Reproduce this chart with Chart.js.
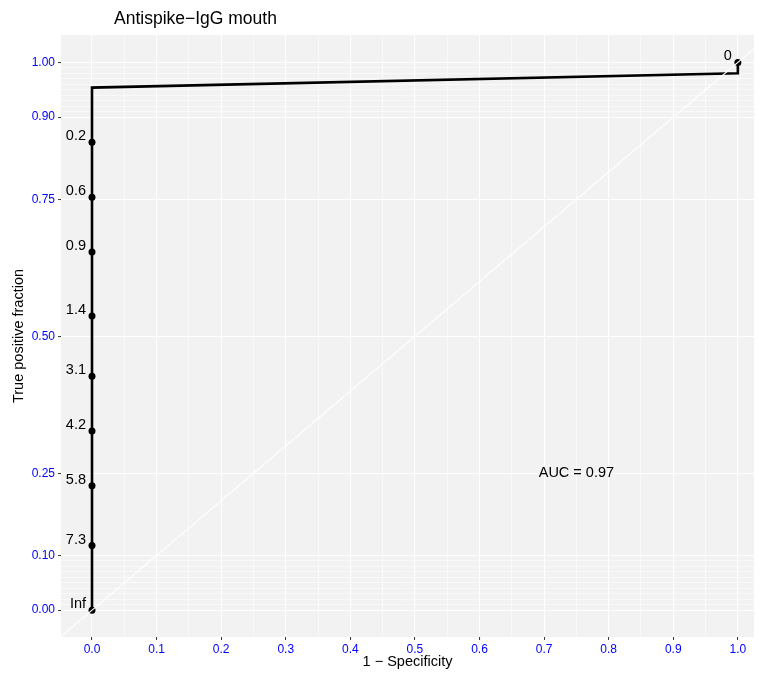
<!DOCTYPE html>
<html>
<head>
<meta charset="utf-8">
<script src="https://cdn.jsdelivr.net/npm/chart.js@4"></script>
<style>
  html, body { margin: 0; padding: 0; background: #fff; }
  #wrap { width: 758px; height: 675px; }
</style>
</head>
<body>
<div id="wrap"><canvas id="roc" width="758" height="675"></canvas></div>
<script>
// ROC path (false positive fraction vs true positive fraction)
const pathFPF = [0, 0, 1, 1];
const pathTPF = [0, 0.954, 0.98, 1];

// labelled cutoffs
const cutLabels = ['Inf', '7.3', '5.8', '4.2', '3.1', '1.4', '0.9', '0.6', '0.2', '0'];
const cutFPF = [0, 0, 0, 0, 0, 0, 0, 0, 0, 1];
const cutTPF = [0, 0.118, 0.227, 0.327, 0.427, 0.537, 0.654, 0.754, 0.854, 1];

// reference diagonal
const refX = [-0.1, 1.1];
const refY = [-0.1, 1.1];

const xMajor = [0, 0.1, 0.2, 0.3, 0.4, 0.5, 0.6, 0.7, 0.8, 0.9, 1.0];
const yMajor = [0, 0.10, 0.25, 0.50, 0.75, 0.90, 1.00];
const aucText = 'AUC = 0.97';
const aucPos = [0.75, 0.25];

const FONT = "'Liberation Sans', Arial, sans-serif";
const r2 = v => Math.round(v * 1000) / 1000;

// minor breaks: every 0.05 on x, every 0.01 near the ends on y
const xGrid = [];
for (let i = 0; i <= 20; i++) xGrid.push(r2(i * 0.05));
const yGrid = [];
for (let i = 0; i <= 10; i++) yGrid.push(r2(i * 0.01));
yGrid.push(0.25, 0.5, 0.75);
for (let i = 90; i <= 100; i++) yGrid.push(r2(i * 0.01));

const isXMajor = v => xMajor.some(m => Math.abs(m - v) < 1e-6);
const isYMajor = v => yMajor.some(m => Math.abs(m - v) < 1e-6);

const panelBg = {
  id: 'panelBg',
  beforeDraw(chart) {
    const { ctx, chartArea: a } = chart;
    ctx.save();
    ctx.fillStyle = '#f2f2f2';
    ctx.fillRect(a.left, a.top, a.right - a.left, a.bottom - a.top);
    ctx.restore();
  }
};

const annotations = {
  id: 'annotations',
  afterDraw(chart) {
    const { ctx } = chart;
    const xs = chart.scales.x, ys = chart.scales.y;
    ctx.save();
    ctx.fillStyle = '#000';
    // title
    ctx.font = '17.5px ' + FONT;
    ctx.textAlign = 'left';
    ctx.textBaseline = 'middle';
    ctx.fillText('Antispike\u2212IgG mouth', 114, 19);
    // cutoff labels
    ctx.font = '14.5px ' + FONT;
    ctx.textAlign = 'right';
    cutLabels.forEach((lab, i) => {
      const px = xs.getPixelForValue(cutFPF[i]);
      const py = ys.getPixelForValue(cutTPF[i]);
      ctx.fillText(lab, px - 6, py - 6);
    });
    // AUC
    ctx.textAlign = 'center';
    ctx.fillText(aucText, xs.getPixelForValue(aucPos[0]), ys.getPixelForValue(aucPos[1]));
    ctx.restore();
  }
};

new Chart(document.getElementById('roc').getContext('2d'), {
  type: 'scatter',
  data: {
    datasets: [
      {
        data: refX.map((x, i) => ({ x, y: refY[i] })),
        showLine: true,
        borderColor: '#ffffff',
        borderWidth: 1.1,
        pointRadius: 0,
        order: 0
      },
      {
        data: cutFPF.map((x, i) => ({ x, y: cutTPF[i] })),
        showLine: false,
        pointRadius: 3.5,
        pointBackgroundColor: '#000',
        pointBorderWidth: 0,
        order: 1
      },
      {
        data: pathFPF.map((x, i) => ({ x, y: pathTPF[i] })),
        showLine: true,
        borderColor: '#000',
        borderWidth: 2.6,
        pointRadius: 0,
        tension: 0,
        order: 2
      }
    ]
  },
  options: {
    responsive: false,
    animation: false,
    layout: { padding: { top: 35, right: 3, left: 0, bottom: 0 } },
    plugins: { legend: { display: false }, tooltip: { enabled: false }, title: { display: false } },
    scales: {
      x: {
        type: 'linear',
        min: -0.048,
        max: 1.025,
        afterBuildTicks: s => { s.ticks = xGrid.map(v => ({ value: v })); },
        afterFit: s => { s.height = 38; },
        border: { display: false },
        grid: {
          color: '#ffffff',
          lineWidth: c => (c.tick && isXMajor(c.tick.value)) ? 1.1 : 0.55,
          tickColor: c => (c.tick && isXMajor(c.tick.value)) ? '#333333' : 'rgba(0,0,0,0)',
          tickLength: 3,
          tickWidth: 1
        },
        ticks: {
          autoSkip: false,
          maxRotation: 0,
          color: '#0000ff',
          font: { size: 12, family: FONT },
          padding: 2,
          callback: v => isXMajor(v) ? v.toFixed(1) : ''
        },
        title: {
          display: true,
          text: '1 \u2212 Specificity',
          color: '#000',
          font: { size: 14.5, family: FONT },
          padding: { top: 0, bottom: 4 }
        }
      },
      y: {
        type: 'linear',
        min: -0.049,
        max: 1.05,
        afterBuildTicks: s => { s.ticks = yGrid.map(v => ({ value: v })); },
        afterFit: s => { s.width = 61; },
        border: { display: false },
        grid: {
          color: '#ffffff',
          lineWidth: c => (c.tick && isYMajor(c.tick.value)) ? 1.1 : 0.55,
          tickColor: c => (c.tick && isYMajor(c.tick.value)) ? '#333333' : 'rgba(0,0,0,0)',
          tickLength: 3,
          tickWidth: 1
        },
        ticks: {
          autoSkip: false,
          color: '#0000ff',
          font: { size: 12, family: FONT },
          padding: 3,
          callback: v => isYMajor(v) ? v.toFixed(2) : ''
        },
        title: {
          display: true,
          text: 'True positive fraction',
          color: '#000',
          font: { size: 14.5, family: FONT },
          padding: { top: 10, bottom: 0 }
        }
      }
    }
  },
  plugins: [panelBg, annotations]
});
</script>
</body>
</html>
